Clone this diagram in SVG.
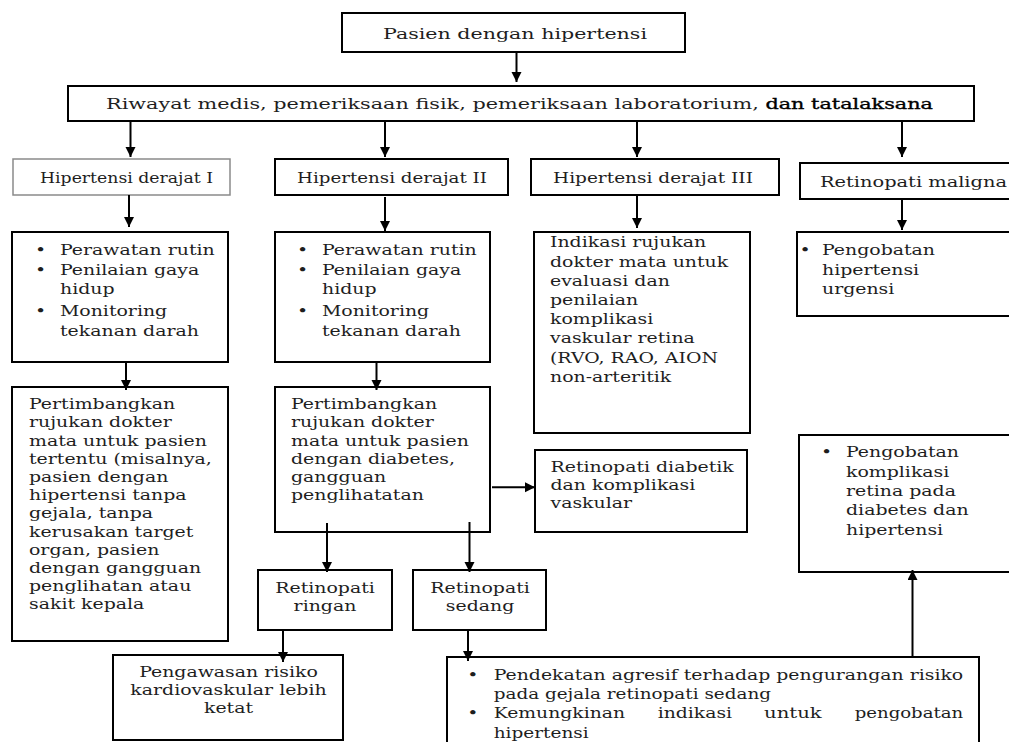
<svg xmlns="http://www.w3.org/2000/svg" width="1009" height="742" viewBox="0 0 1009 742">
<style>
.box{fill:#fff;stroke:#000;stroke-width:2}
.gbox{fill:#fff;stroke:#8a8a8a;stroke-width:1.5}
.t{font-family:"DejaVu Serif","Liberation Serif",serif;font-size:15.5px;fill:#1e1e1e}
.c{text-anchor:middle}
.con line{stroke:#000;stroke-width:2;marker-end:url(#ah)}
</style>
<defs>
<marker id="ah" markerUnits="userSpaceOnUse" markerWidth="11" markerHeight="11" refX="10" refY="5" orient="auto">
<path d="M0,0 L10,5 L0,10 z" fill="#000"/>
</marker>
</defs>
<rect width="1009" height="742" fill="#fff"/>

<g id="n-pasien">
<rect class="box" x="342" y="13" width="343" height="39"/>
<text class="t" x="383" y="39" font-size="16" textLength="264" lengthAdjust="spacingAndGlyphs">Pasien dengan hipertensi</text>
</g>
<g id="n-riwayat">
<rect class="box" x="68" y="86" width="906" height="35"/>
<text class="t" x="106" y="109" font-size="16" fill="#3a3a3a" textLength="827" lengthAdjust="spacingAndGlyphs">Riwayat medis, pemeriksaan fisik, pemeriksaan laboratorium, <tspan fill="#000" stroke="#000" stroke-width="0.35">dan tatalaksana</tspan></text>
</g>
<g id="n-hip1">
<rect class="gbox" x="13" y="159" width="217" height="36"/>
<text class="t" x="40" y="183" fill="#555" textLength="173" lengthAdjust="spacingAndGlyphs">Hipertensi derajat I</text>
</g>
<g id="n-hip2">
<rect class="box" x="275" y="159" width="233" height="36"/>
<text class="t" x="297" y="183" textLength="190" lengthAdjust="spacingAndGlyphs">Hipertensi derajat II</text>
</g>
<g id="n-hip3">
<rect class="box" x="531" y="159" width="248" height="36"/>
<text class="t" x="553" y="183" textLength="200" lengthAdjust="spacingAndGlyphs">Hipertensi derajat III</text>
</g>
<g id="n-maligna">
<rect class="box" x="800" y="163" width="215" height="36"/>
<text class="t" x="820" y="187" textLength="187" lengthAdjust="spacingAndGlyphs">Retinopati maligna</text>
</g>

<g id="n-a">
<rect class="box" x="12" y="232" width="216" height="130"/>
<text class="t" transform="matrix(1.22 0 0 1 60 0)"><tspan x="-20.6" y="255">•</tspan><tspan x="0" y="255">Perawatan rutin</tspan><tspan x="-20.6" y="275">•</tspan><tspan x="0" y="275">Penilaian gaya</tspan><tspan x="0" y="294">hidup</tspan><tspan x="-20.6" y="316">•</tspan><tspan x="0" y="316">Monitoring</tspan><tspan x="0" y="336">tekanan darah</tspan></text>
</g>
<g id="n-b">
<rect class="box" x="275" y="232" width="215" height="130"/>
<text class="t" transform="matrix(1.22 0 0 1 322 0)"><tspan x="-20.6" y="255">•</tspan><tspan x="0" y="255">Perawatan rutin</tspan><tspan x="-20.6" y="275">•</tspan><tspan x="0" y="275">Penilaian gaya</tspan><tspan x="0" y="294">hidup</tspan><tspan x="-20.6" y="316">•</tspan><tspan x="0" y="316">Monitoring</tspan><tspan x="0" y="336">tekanan darah</tspan></text>
</g>
<g id="n-c">
<rect class="box" x="534" y="232" width="216" height="201"/>
<text class="t" transform="matrix(1.22 0 0 1 550 0)"><tspan x="0" y="247.5">Indikasi rujukan</tspan><tspan x="0" y="266.7">dokter mata untuk</tspan><tspan x="0" y="285.9">evaluasi dan</tspan><tspan x="0" y="305.1">penilaian</tspan><tspan x="0" y="324.3">komplikasi</tspan><tspan x="0" y="343.5">vaskular retina</tspan><tspan x="0" y="362.7">(RVO, RAO, AION</tspan><tspan x="0" y="381.9">non-arteritik</tspan></text>
</g>
<g id="n-d">
<rect class="box" x="797" y="232" width="220" height="84"/>
<text class="t" transform="matrix(1.22 0 0 1 822 0)"><tspan x="-18.4" y="255">•</tspan><tspan x="0" y="255">Pengobatan</tspan><tspan x="0" y="274.5">hipertensi</tspan><tspan x="0" y="294">urgensi</tspan></text>
</g>

<g id="n-e">
<rect class="box" x="12" y="387" width="216" height="254"/>
<text class="t" transform="matrix(1.22 0 0 1 29 0)"><tspan x="0" y="409.3">Pertimbangkan</tspan><tspan x="0" y="427.5">rujukan dokter</tspan><tspan x="0" y="445.7">mata untuk pasien</tspan><tspan x="0" y="463.8">tertentu (misalnya,</tspan><tspan x="0" y="482">pasien dengan</tspan><tspan x="0" y="500.2">hipertensi tanpa</tspan><tspan x="0" y="518.4">gejala, tanpa</tspan><tspan x="0" y="536.6">kerusakan target</tspan><tspan x="0" y="554.7">organ, pasien</tspan><tspan x="0" y="572.9">dengan gangguan</tspan><tspan x="0" y="591.1">penglihatan atau</tspan><tspan x="0" y="609.3">sakit kepala</tspan></text>
</g>
<g id="n-f">
<rect class="box" x="275" y="387" width="215" height="145"/>
<text class="t" transform="matrix(1.22 0 0 1 291 0)"><tspan x="0" y="409.3">Pertimbangkan</tspan><tspan x="0" y="427.5">rujukan dokter</tspan><tspan x="0" y="445.7">mata untuk pasien</tspan><tspan x="0" y="463.8">dengan diabetes,</tspan><tspan x="0" y="482">gangguan</tspan><tspan x="0" y="500.2">penglihatatan</tspan></text>
</g>
<g id="n-g">
<rect class="box" x="535" y="450" width="212" height="82"/>
<text class="t" transform="matrix(1.22 0 0 1 550.5 0)"><tspan x="0" y="471.7">Retinopati diabetik</tspan><tspan x="0" y="490">dan komplikasi</tspan><tspan x="0" y="508.3">vaskular</tspan></text>
</g>
<g id="n-h">
<rect class="box" x="799" y="435" width="220" height="137"/>
<text class="t" transform="matrix(1.22 0 0 1 846 0)"><tspan x="-20.6" y="457.3">•</tspan><tspan x="0" y="457.3">Pengobatan</tspan><tspan x="0" y="476.7">komplikasi</tspan><tspan x="0" y="496">retina pada</tspan><tspan x="0" y="515">diabetes dan</tspan><tspan x="0" y="535">hipertensi</tspan></text>
</g>

<g id="n-ringan">
<rect class="box" x="258" y="570" width="134" height="60"/>
<text class="t c" transform="matrix(1.22 0 0 1 325 0)"><tspan x="0" y="592.7">Retinopati</tspan><tspan x="0" y="610.7">ringan</tspan></text>
</g>
<g id="n-sedang">
<rect class="box" x="413" y="570" width="133" height="60"/>
<text class="t c" transform="matrix(1.22 0 0 1 480 0)"><tspan x="0" y="592.7">Retinopati</tspan><tspan x="0" y="610.7">sedang</tspan></text>
</g>
<g id="n-pengawasan">
<rect class="box" x="113" y="655" width="230" height="85"/>
<text class="t c" transform="matrix(1.22 0 0 1 228.5 0)"><tspan x="0" y="676.7">Pengawasan risiko</tspan><tspan x="0" y="695">kardiovaskular lebih</tspan><tspan x="0" y="713.3">ketat</tspan></text>
</g>
<g id="n-bottom">
<rect class="box" x="447" y="657" width="532" height="100"/>
<text class="t" transform="matrix(1.22 0 0 1 467.2 0)"><tspan x="0" y="680">•</tspan><tspan x="0" y="718.3">•</tspan></text>
<text class="t" x="493.7" y="680" textLength="469.5" lengthAdjust="spacingAndGlyphs">Pendekatan agresif terhadap pengurangan risiko</text>
<text class="t" x="493.7" y="699" textLength="277.3" lengthAdjust="spacingAndGlyphs">pada gejala retinopati sedang</text>
<text class="t" x="493.7" y="718.3" textLength="131.4" lengthAdjust="spacingAndGlyphs">Kemungkinan</text>
<text class="t" x="657.7" y="718.3" textLength="74.4" lengthAdjust="spacingAndGlyphs">indikasi</text>
<text class="t" x="764" y="718.3" textLength="57.7" lengthAdjust="spacingAndGlyphs">untuk</text>
<text class="t" x="854.7" y="718.3" textLength="108.5" lengthAdjust="spacingAndGlyphs">pengobatan</text>
<text class="t" x="493.7" y="738.3" textLength="95" lengthAdjust="spacingAndGlyphs">hipertensi</text>
</g>

<g id="connectors" class="con">
<line x1="516.5" y1="52" x2="516.5" y2="82"/>
<line x1="130.5" y1="122" x2="130.5" y2="157"/>
<line x1="385" y1="122" x2="385" y2="157"/>
<line x1="637" y1="122" x2="637" y2="157"/>
<line x1="902" y1="120" x2="902" y2="157"/>
<line x1="129" y1="195" x2="129" y2="227"/>
<line x1="385" y1="197" x2="385" y2="231"/>
<line x1="637" y1="195" x2="637" y2="228"/>
<line x1="902" y1="199" x2="902" y2="230"/>
<line x1="126" y1="362" x2="126" y2="390"/>
<line x1="376.5" y1="362" x2="376.5" y2="390"/>
<line x1="492" y1="487.3" x2="535" y2="487.3"/>
<line x1="327" y1="523" x2="327" y2="572"/>
<line x1="469.5" y1="522" x2="469.5" y2="572"/>
<line x1="283" y1="630" x2="283" y2="662"/>
<line x1="468" y1="630" x2="468" y2="661"/>
<line x1="912.5" y1="657" x2="912.5" y2="570"/>
</g>
</svg>
